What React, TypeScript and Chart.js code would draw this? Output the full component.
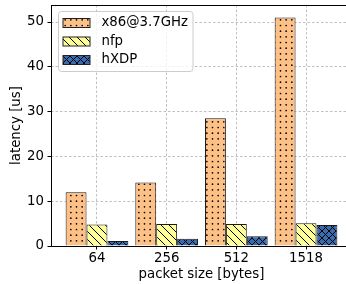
import React, { useEffect, useRef } from "react";
import { Chart, registerables } from "chart.js";

Chart.register(...registerables);

const categories = ["64", "256", "512", "1518"];
const seriesNames = ["x86@3.7GHz", "nfp", "hXDP"];
const x86Values = [12.0, 14.2, 28.5, 51.0];
const nfpValues = [4.8, 4.9, 4.9, 5.1];
const hxdpValues = [1.1, 1.6, 2.2, 4.7];
const yTicks = [0, 10, 20, 30, 40, 50];
const yMax = 53.8;
const xMin = -0.66;
const xMax = 3.66;

const FONT = "'DejaVu Sans', sans-serif";
const FS = 13.3;

function makePattern(kind: string, bg: string): CanvasPattern | string {
  const c = document.createElement("canvas");
  const s = kind === "dots" ? 17 : kind === "cross" ? 7 : 8;
  c.width = s;
  c.height = s;
  const g = c.getContext("2d");
  if (!g) return bg;
  g.fillStyle = bg;
  g.fillRect(0, 0, s, s);
  g.strokeStyle = "#000";
  g.fillStyle = "#000";
  g.lineWidth = 1;
  if (kind === "dots") {
    const step = s / 3;
    for (let i = 0; i < 3; i++) {
      for (let j = 0; j < 3; j++) {
        g.beginPath();
        g.arc(step / 2 + i * step, step / 2 + j * step, 0.85, 0, Math.PI * 2);
        g.fill();
      }
    }
  } else {
    g.beginPath();
    g.moveTo(-1, -1);
    g.lineTo(s + 1, s + 1);
    g.moveTo(s - 1, -1);
    g.lineTo(s + 1, 1);
    g.moveTo(-1, s - 1);
    g.lineTo(1, s + 1);
    if (kind === "cross") {
      g.moveTo(-1, s + 1);
      g.lineTo(s + 1, -1);
      g.moveTo(-1, 1);
      g.lineTo(1, -1);
      g.moveTo(s - 1, s + 1);
      g.lineTo(s + 1, s - 1);
    }
    g.stroke();
  }
  const ctx = document.createElement("canvas").getContext("2d");
  return ctx ? (ctx.createPattern(c, "repeat") as CanvasPattern) : bg;
}

export default function App() {
  const ref = useRef<HTMLCanvasElement | null>(null);

  useEffect(() => {
    if (!ref.current) return;
    const fills = [
      makePattern("dots", "#fdc086"),
      makePattern("diag", "#ffff99"),
      makePattern("cross", "#386cb0"),
    ];
    const seriesValues = [x86Values, nfpValues, hxdpValues];

    const framePlugin = {
      id: "frameAndLegend",
      afterDatasetsDraw(chart: any) {
        const { ctx, chartArea } = chart;
        ctx.save();
        ctx.strokeStyle = "#000";
        ctx.lineWidth = 1;
        ctx.setLineDash([]);
        ctx.strokeRect(
          Math.round(chartArea.left) + 0.5,
          Math.round(chartArea.top) + 0.5,
          Math.round(chartArea.right - chartArea.left),
          Math.round(chartArea.bottom - chartArea.top)
        );
        const lx = chartArea.left + 7.5;
        const ly = chartArea.top + 6.5;
        const lw = 134.5;
        const lh = 60;
        ctx.fillStyle = "rgba(255,255,255,0.8)";
        ctx.strokeStyle = "#cccccc";
        ctx.beginPath();
        if ((ctx as any).roundRect) (ctx as any).roundRect(lx, ly, lw, lh, 3);
        else ctx.rect(lx, ly, lw, lh);
        ctx.fill();
        ctx.stroke();
        ctx.font = `${FS}px ${FONT}`;
        ctx.textBaseline = "middle";
        ctx.textAlign = "left";
        chart.data.datasets.forEach((ds: any, i: number) => {
          const cy = ly + 11.5 + i * 18.5;
          ctx.fillStyle = ds.backgroundColor;
          ctx.fillRect(lx + 4.5, cy - 4.5, 27, 9);
          ctx.strokeStyle = "#222";
          ctx.strokeRect(lx + 4.5, cy - 4.5, 27, 9);
          ctx.fillStyle = "#000";
          ctx.fillText(ds.label, lx + 43, cy);
        });
        ctx.restore();
      },
    };

    const chart = new Chart(ref.current, {
      type: "bar",
      data: {
        datasets: seriesValues.map((vals, i) => ({
          label: seriesNames[i],
          data: vals.map((v, j) => ({ x: j, y: v })),
          backgroundColor: fills[i] as any,
          borderColor: "#1a1a1a",
          borderWidth: 1,
          categoryPercentage: 0.9,
          barPercentage: 1.0,
        })),
      },
      options: {
        animation: false,
        responsive: false,
        devicePixelRatio: 1,
        layout: { padding: { top: 5, right: 4, bottom: 0, left: 0 } },
        plugins: {
          legend: { display: false },
          tooltip: { enabled: false },
        },
        scales: {
          x: {
            type: "linear",
            min: xMin,
            max: xMax,
            offset: false,
            afterBuildTicks: (scale: any) => {
              scale.ticks = categories.map((_, i) => ({ value: i }));
            },
            afterFit: (scale: any) => {
              scale.height = 38;
              scale.paddingLeft = 0;
              scale.paddingRight = 0;
              scale.paddingTop = 0;
              scale.paddingBottom = 0;
            },
            ticks: {
              callback: (v: any) => categories[Math.round(Number(v))] ?? "",
              color: "#000",
              font: { family: FONT, size: FS },
              padding: 1,
              maxRotation: 0,
              autoSkip: false,
            },
            grid: {
              color: "#b0b0b0",
              lineWidth: 0.8,
              offset: false,
              tickLength: 3.5,
              tickColor: "#000",
              tickWidth: 1,
              tickBorderDash: [],
            },
            border: { display: false, dash: [2.5, 2] },
            title: {
              display: true,
              text: "packet size [bytes]",
              color: "#000",
              font: { family: FONT, size: FS },
              padding: { top: 0, bottom: 1 },
            },
          },
          y: {
            type: "linear",
            min: 0,
            max: yMax,
            afterBuildTicks: (scale: any) => {
              scale.ticks = yTicks.map((v) => ({ value: v }));
            },
            afterFit: (scale: any) => {
              scale.width = 51;
              scale.paddingLeft = 0;
              scale.paddingRight = 0;
              scale.paddingTop = 0;
              scale.paddingBottom = 0;
            },
            ticks: {
              callback: (v: any) => String(v),
              color: "#000",
              font: { family: FONT, size: FS },
              padding: 3.5,
            },
            grid: {
              color: "#b0b0b0",
              lineWidth: 0.8,
              tickLength: 3.5,
              tickColor: "#000",
              tickWidth: 1,
              tickBorderDash: [],
            },
            border: { display: false, dash: [2.5, 2] },
            title: {
              display: true,
              text: "latency [us]",
              color: "#000",
              font: { family: FONT, size: FS },
              padding: { top: 9, bottom: 0 },
            },
          },
        },
      },
      plugins: [framePlugin],
    } as any);

    return () => chart.destroy();
  }, []);

  return (
    <div
      style={{
        position: "fixed",
        left: 0,
        top: 0,
        width: 346,
        height: 284,
        overflow: "hidden",
        background: "#fff",
      }}
    >
      <canvas ref={ref} width={356} height={284} style={{ display: "block" }} />
    </div>
  );
}
